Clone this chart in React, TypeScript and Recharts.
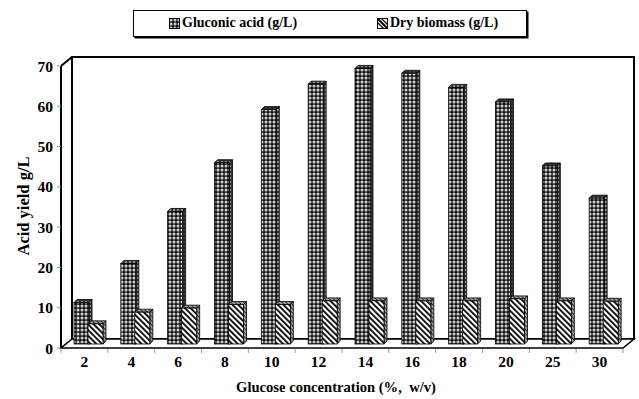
import React from 'react';
import { BarChart, Bar, XAxis, YAxis, ReferenceArea } from 'recharts';

const categories = ['2', '4', '6', '8', '10', '12', '14', '16', '18', '20', '25', '30'];
const gluconicAcid = [10.3, 20.0, 32.9, 45.0, 58.2, 64.5, 68.4, 67.2, 63.7, 60.1, 44.2, 36.2];
const dryBiomass = [5.0, 7.9, 8.9, 9.8, 9.8, 10.7, 10.7, 10.7, 10.7, 11.2, 10.7, 10.6];
const yTicks = [0, 10, 20, 30, 40, 50, 60, 70];
const seriesNames = ['Gluconic acid (g/L)', 'Dry biomass (g/L)'];
const xTitle = 'Glucose concentration (%,  w/v)';
const yTitle = 'Acid yield g/L';

const data = categories.map((c, i) => ({ cat: c, gluconic: gluconicAcid[i], biomass: dryBiomass[i] }));

const FONT = '"Liberation Serif", "Times New Roman", serif';
const WALL_DX = 11;
const WALL_DY = 9;
const BAR_DX = 4;
const BAR_DY = 4;
const DEPTH = 3;

const Patterns = () => (
  <svg width={0} height={0} style={{ position: 'absolute' }}>
    <defs>
      <pattern id="pGluFront" width={4} height={4} patternUnits="userSpaceOnUse">
        <rect width={4} height={4} fill="#111" />
        <circle cx={2} cy={2} r={1.5} fill="#eeeeee" />
        <circle cx={2} cy={2} r={0.5} fill="#333" />
      </pattern>
      <pattern id="pGluSide" width={4} height={4} patternUnits="userSpaceOnUse">
        <rect width={4} height={4} fill="#2a2a2a" />
        <circle cx={2} cy={2} r={1.3} fill="#8a8a8a" />
      </pattern>
      <pattern id="pBioFront" width={4} height={4} patternUnits="userSpaceOnUse" patternTransform="rotate(-45)">
        <rect width={4} height={4} fill="#fff" />
        <rect width={1.8} height={4} fill="#000" />
      </pattern>
      <pattern id="pBioSide" width={3} height={3} patternUnits="userSpaceOnUse" patternTransform="rotate(-45)">
        <rect width={3} height={3} fill="#a0a0a0" />
        <rect width={1} height={3} fill="#333" />
      </pattern>
    </defs>
  </svg>
);

const make3DBar = (frontFill: string, sideFill: string) => (props: any) => {
  const { x, y, width, height } = props;
  if (x == null || y == null || !height) return <g />;
  const fx = x + BAR_DX;
  const fy = y - BAR_DY;
  const w = width;
  const h = height;
  const top = `${fx},${fy} ${fx + DEPTH},${fy - DEPTH} ${fx + w + DEPTH},${fy - DEPTH} ${fx + w},${fy}`;
  const side = `${fx + w},${fy} ${fx + w + DEPTH},${fy - DEPTH} ${fx + w + DEPTH},${fy + h - DEPTH} ${fx + w},${fy + h}`;
  return (
    <g>
      <polygon points={top} fill={sideFill} stroke="#000" strokeWidth={0.8} />
      <polygon points={side} fill={sideFill} stroke="#000" strokeWidth={0.8} />
      <rect x={fx} y={fy} width={w} height={h} fill={frontFill} stroke="#000" strokeWidth={0.8} />
    </g>
  );
};

const GluconicBar = make3DBar('url(#pGluFront)', 'url(#pGluSide)');
const BiomassBar = make3DBar('url(#pBioFront)', 'url(#pBioSide)');

const Frame = (props: any) => {
  const { x, y, width, height } = props;
  if (x == null) return <g />;
  const n = categories.length;
  const bw = width / n;
  const bottom = y + height;
  const right = x + width;
  const tickStep = height / (yTicks.length - 1);
  return (
    <g>
      <rect x={x + WALL_DX} y={y - WALL_DY} width={width} height={height} fill="#fff" stroke="#000" strokeWidth={2} />
      <polygon
        points={`${x},${bottom} ${right},${bottom} ${right + WALL_DX},${bottom - WALL_DY} ${x + WALL_DX},${bottom - WALL_DY}`}
        fill="#fff"
        stroke="#000"
        strokeWidth={1.6}
      />
      <line x1={x} y1={y} x2={x} y2={bottom} stroke="#000" strokeWidth={2} />
      <line x1={x} y1={y} x2={x + WALL_DX} y2={y - WALL_DY} stroke="#000" strokeWidth={2} />
      {Array.from({ length: n + 1 }).map((_, i) => (
        <line key={'xt' + i} x1={x + i * bw} y1={bottom + 1} x2={x + i * bw} y2={bottom + 5} stroke="#999" strokeWidth={1} />
      ))}
      {yTicks.map((_, i) => (
        <line key={'yt' + i} x1={x - 4} y1={y + i * tickStep} x2={x} y2={y + i * tickStep} stroke="#999" strokeWidth={1} />
      ))}
    </g>
  );
};

const tickStyle = { fill: '#000', fontSize: 15.5, fontWeight: 'bold', fontFamily: FONT };

const XTitle = (props: any) => {
  const vb = props.viewBox || {};
  return (
    <text
      x={vb.x + vb.width / 2 - 6}
      y={vb.y + vb.height - 7}
      textAnchor="middle"
      style={{ whiteSpace: 'pre' }}
      fontFamily={FONT}
      fontWeight="bold"
      fontSize={14.6}
      fill="#000"
    >
      {xTitle}
    </text>
  );
};

const YTitle = (props: any) => {
  const vb = props.viewBox || {};
  const cx = vb.x + 23;
  const cy = vb.y + vb.height / 2 - 1;
  return (
    <text
      x={cx}
      y={cy}
      transform={`rotate(-90 ${cx} ${cy})`}
      textAnchor="middle"
      dominantBaseline="central"
      fontFamily={FONT}
      fontWeight="bold"
      fontSize={16.5}
      fill="#000"
    >
      {yTitle}
    </text>
  );
};

const Legend3D = () => (
  <div
    style={{
      position: 'absolute',
      left: 133,
      top: 10,
      width: 394,
      height: 27,
      boxSizing: 'border-box',
      border: '1.5px solid #000',
      boxShadow: '1.5px 1.5px 0 #000',
      background: '#fff',
      fontFamily: FONT,
      fontWeight: 'bold',
      fontSize: 14,
      color: '#000',
    }}
  >
    <svg width={11} height={11} style={{ position: 'absolute', left: 35, top: 7 }}>
      <rect x={0.5} y={0.5} width={10} height={10} fill="url(#pGluFront)" stroke="#000" strokeWidth={1} />
    </svg>
    <span style={{ position: 'absolute', left: 48, top: 4, lineHeight: '16px', whiteSpace: 'nowrap' }}>{seriesNames[0]}</span>
    <svg width={11} height={11} style={{ position: 'absolute', left: 243, top: 7 }}>
      <rect x={0.5} y={0.5} width={10} height={10} fill="#fff" stroke="#000" strokeWidth={1} />
      <line x1={0.5} y1={0.5} x2={10.5} y2={10.5} stroke="#000" strokeWidth={2} />
      <line x1={0.5} y1={4.5} x2={6.5} y2={10.5} stroke="#000" strokeWidth={1.2} />
      <line x1={4.5} y1={0.5} x2={10.5} y2={6.5} stroke="#000" strokeWidth={1.2} />
    </svg>
    <span style={{ position: 'absolute', left: 256, top: 4, lineHeight: '16px', whiteSpace: 'nowrap' }}>{seriesNames[1]}</span>
  </div>
);

export default function App() {
  return (
    <div style={{ position: 'absolute', left: 0, top: 0, width: 639, height: 399, background: '#fff' }}>
      <Patterns />
      <BarChart
        width={639}
        height={399}
        data={data}
        margin={{ top: 66, right: 16, left: 0, bottom: 0 }}
        barCategoryGap="19%"
        barGap={-1}
      >
        <ReferenceArea y1={0} y2={70} shape={(p: any) => <Frame {...p} />} ifOverflow="visible" zIndex={-10} />
        <XAxis
          dataKey="cat"
          height={51}
          axisLine={false}
          tickLine={false}
          tickSize={0}
          tickMargin={8}
          tick={tickStyle}
          interval={0}
          label={<XTitle />}
        />
        <YAxis
          width={61}
          domain={[0, 70]}
          ticks={yTicks}
          interval={0}
          axisLine={false}
          tickLine={false}
          tickSize={0}
          tickMargin={8}
          tick={tickStyle}
          label={<YTitle />}
        />
        <Bar dataKey="gluconic" name={seriesNames[0]} barSize={15} shape={GluconicBar} isAnimationActive={false} />
        <Bar dataKey="biomass" name={seriesNames[1]} barSize={15} shape={BiomassBar} isAnimationActive={false} />
      </BarChart>
      <Legend3D />
    </div>
  );
}
